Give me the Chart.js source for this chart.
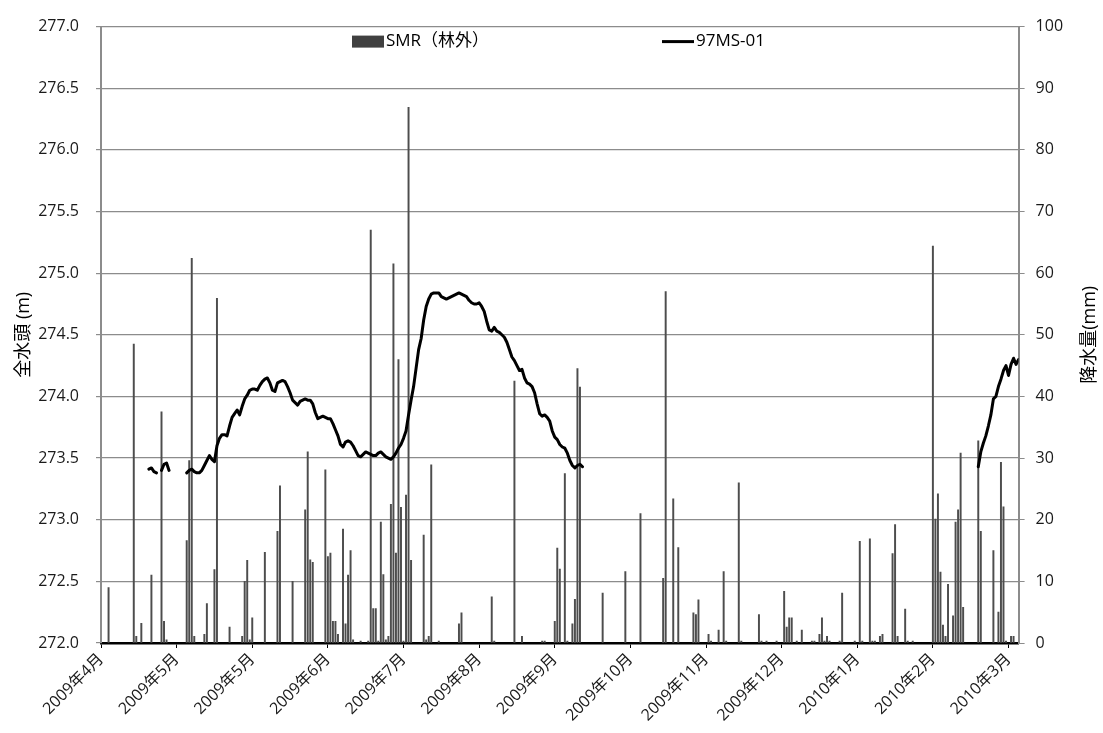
<!DOCTYPE html>
<html>
<head>
<meta charset="utf-8">
<script src="https://cdn.jsdelivr.net/npm/chart.js@4.4.1/dist/chart.umd.min.js"></script>
<style>
  html, body { margin: 0; padding: 0; background: #fff; }
  #wrap { width: 1103px; height: 733px; position: relative; }
</style>
</head>
<body>
<div id="wrap"><canvas id="grafico"></canvas></div>
<script>
// eixo x: dias desde 2009-04-01, marcas a cada 30 dias
const tickDays = [0, 30, 60, 90, 120, 150, 180, 210, 240, 270, 300, 330, 360];
const monthLabels = ['2009年4月', '2009年5月', '2009年5月', '2009年6月', '2009年7月', '2009年8月', '2009年9月',
    '2009年10月', '2009年11月', '2009年12月', '2010年1月', '2010年2月', '2010年3月'];

// precipitação diária (mm) - SMR（林外）
const rainDays = [
    3, 13, 14, 16, 20, 24, 25, 26, 34, 35,
    36, 37, 41, 42, 45, 46, 51, 56, 57, 58,
    59, 60, 65, 70, 71, 76, 81, 82, 83, 84,
    89, 90, 91, 92, 93, 94, 96, 97, 98, 99,
    100, 103, 106, 107, 108, 109, 110, 111, 112, 113,
    114, 115, 116, 117, 118, 119, 120, 121, 122, 123,
    128, 129, 130, 131, 134, 142, 143, 155, 156, 164,
    167, 175, 176, 180, 181, 182, 184, 185, 187, 188,
    189, 190, 199, 208, 214, 223, 224, 227, 229, 235,
    236, 237, 241, 242, 245, 247, 248, 253, 254, 261,
    262, 264, 268, 271, 272, 273, 274, 276, 278, 282,
    283, 285, 286, 287, 288, 289, 293, 294, 299, 301,
    302, 305, 306, 307, 309, 310, 314, 315, 316, 319,
    320, 322, 330, 331, 332, 333, 334, 335, 336, 338,
    339, 340, 341, 342, 348, 349, 354, 356, 357, 358,
    359, 361, 362
];
const rainMm = [
    9, 48.5, 1.1, 3.2, 11, 37.5, 3.5, 0.5, 16.6, 29.6,
    62.4, 1.1, 1.4, 6.4, 11.9, 55.9, 2.6, 1.1, 10, 13.4,
    0.5, 4.1, 14.7, 18.1, 25.5, 10, 21.6, 31, 13.5, 13.1,
    28.1, 14, 14.6, 3.5, 3.5, 1.4, 18.5, 3.1, 11, 15,
    0.5, 0.3, 0.3, 67, 5.6, 5.6, 0.3, 19.6, 11.1, 0.5,
    1.1, 22.5, 61.5, 14.6, 46, 22, 0.3, 24, 86.9, 13.4,
    17.5, 0.5, 1.1, 28.9, 0.3, 3.1, 4.9, 7.5, 0.3, 42.5,
    1.1, 0.3, 0.3, 3.5, 15.4, 12, 27.5, 0.3, 3.1, 7.1,
    44.5, 41.5, 8.1, 11.6, 21, 10.5, 57, 23.4, 15.5, 4.9,
    4.6, 7, 1.4, 0.3, 2.1, 11.6, 0.3, 26, 0.3, 4.6,
    0.3, 0.3, 0.3, 8.4, 2.6, 4.1, 4.1, 0.3, 2.1, 0.3,
    0.3, 1.4, 4.1, 0.3, 1.1, 0.3, 0.3, 8.1, 0.3, 16.5,
    0.3, 16.9, 0.3, 0.3, 1.1, 1.4, 14.5, 19.2, 1.1, 5.5,
    0.3, 0.3, 64.4, 20.1, 24.2, 11.5, 2.9, 1.1, 9.5, 4.4,
    19.6, 21.6, 30.8, 5.8, 32.8, 18.1, 15, 5, 29.3, 22.1,
    0.3, 1.1, 1.1
];

// carga hidráulica 97MS-01 (m), trechos contínuos: dia inicial + valores diários
const headStart1 = 19;
const head1 = [273.41, 273.42, 273.39, 273.38];
const headStart2 = 24;
const head2 = [273.40, 273.45, 273.46, 273.40];
const headStart3 = 34;
const head3 = [
    273.38, 273.40, 273.41, 273.39, 273.38, 273.38, 273.40, 273.44, 273.48, 273.52,
    273.49, 273.47, 273.60, 273.66, 273.69, 273.69, 273.68, 273.76, 273.83, 273.86,
    273.89, 273.85, 273.92, 273.98, 274.01, 274.05,
    274.06, 274.06, 274.05, 274.09, 274.12, 274.14, 274.15, 274.11, 274.05, 274.04,
    274.11, 274.12, 274.13, 274.12, 274.08, 274.03, 273.97, 273.95, 273.93, 273.96,
    273.97, 273.98, 273.97, 273.97, 273.94, 273.87, 273.82, 273.83, 273.84, 273.83,
    273.82, 273.82, 273.78, 273.73, 273.68, 273.61, 273.59, 273.63, 273.64, 273.63,
    273.60, 273.56, 273.52, 273.51, 273.53, 273.55, 273.54, 273.53, 273.52, 273.52,
    273.54, 273.55, 273.53, 273.51, 273.50, 273.49, 273.51, 273.54, 273.58, 273.61,
    273.66, 273.72, 273.85, 273.97, 274.08, 274.23, 274.38, 274.47, 274.62, 274.73,
    274.79, 274.83, 274.84, 274.84, 274.84, 274.81, 274.80, 274.79, 274.80, 274.81,
    274.82, 274.83, 274.84, 274.83, 274.82, 274.81, 274.78, 274.76, 274.75, 274.75,
    274.76, 274.73, 274.69, 274.61, 274.54, 274.53, 274.56, 274.53, 274.52, 274.50,
    274.48, 274.44, 274.38, 274.32, 274.29, 274.25, 274.21, 274.22, 274.15, 274.11,
    274.10, 274.08, 274.03, 273.94, 273.86, 273.84, 273.85, 273.83, 273.80, 273.72,
    273.67, 273.65, 273.61, 273.59, 273.58, 273.54, 273.48, 273.44, 273.42, 273.44,
    273.45, 273.43
];
const headStart4 = 348;
const head4 = [273.43, 273.55, 273.62, 273.68, 273.76, 273.85, 273.98, 274.00, 274.08, 274.14,
    274.21, 274.25, 274.17, 274.26, 274.31, 274.26, 274.30];

// monta os pontos da linha com quebras (null) entre os trechos
const headPoints = [];
[[headStart1, head1], [headStart2, head2], [headStart3, head3], [headStart4, head4]].forEach(([start, vals]) => {
    if (headPoints.length) headPoints.push({ x: start - 0.5, y: null });
    vals.forEach((v, i) => headPoints.push({ x: start + i, y: v }));
});

const fonte = "'Open Sans', 'Noto Sans CJK JP', sans-serif";
Chart.defaults.font.family = fonte;
Chart.defaults.color = '#1a1a1a';

// títulos dos eixos e legenda desenhados à mão (como no Excel)
const extras = {
    id: 'extras',
    afterDraw(chart) {
        const ctx = chart.ctx;
        const a = chart.chartArea;
        const midY = (a.top + a.bottom) / 2;
        ctx.save();
        ctx.fillStyle = '#000';
        ctx.font = '18px ' + fonte;
        ctx.textAlign = 'center';
        ctx.textBaseline = 'middle';
        [[24, '全水頭 (m)'], [1090, '降水量(mm)']].forEach(([x, txt]) => {
            ctx.save();
            ctx.translate(x, midY);
            ctx.rotate(-Math.PI / 2);
            ctx.fillText(txt, 0, 0);
            ctx.restore();
        });

        // legenda
        const ds = chart.data.datasets;
        ctx.font = '17px ' + fonte;
        ctx.textAlign = 'left';
        ctx.fillStyle = '#404040';
        ctx.fillRect(a.left + 251, a.top + 9, 32, 12);
        ctx.fillStyle = '#000';
        ctx.fillText(ds[0].label, a.left + 285, a.top + 15);
        ctx.strokeStyle = '#000';
        ctx.lineWidth = 3;
        ctx.beginPath();
        ctx.moveTo(a.left + 561, a.top + 15);
        ctx.lineTo(a.left + 593, a.top + 15);
        ctx.stroke();
        ctx.fillText(ds[1].label, a.left + 595, a.top + 15);
        ctx.restore();
    }
};

const divGrafico = document.getElementById('grafico').getContext('2d');

const grafico = new Chart(divGrafico, {
    type: 'bar',
    data: {
        datasets: [
            {
                type: 'bar',
                label: 'SMR（林外）',
                data: rainDays.map((d, i) => ({ x: d, y: rainMm[i] })),
                backgroundColor: '#4d4d4d',
                barThickness: 1.3,
                yAxisID: 'y1',
                order: 2,
            },
            {
                type: 'line',
                label: '97MS-01',
                data: headPoints,
                borderColor: '#000',
                borderWidth: 3,
                pointRadius: 0,
                tension: 0,
                spanGaps: false,
                borderJoinStyle: 'round',
                borderCapStyle: 'round',
                yAxisID: 'y',
                order: 1,
            }
        ]
    },
    options: {
        maintainAspectRatio: false,
        animation: false,
        events: [],
        layout: {
            padding: { top: 14.5, left: 0, right: 0, bottom: 0 }
        },
        plugins: {
            legend: { display: false },
            tooltip: { enabled: false },
        },
        scales: {
            x: {
                type: 'linear',
                min: 0,
                max: 364,
                offset: false,
                afterBuildTicks: (scale) => {
                    scale.ticks = tickDays.map(v => ({ value: v }));
                },
                afterFit: (scale) => { scale.height = 90; },
                ticks: {
                    autoSkip: false,
                    maxRotation: 45,
                    minRotation: 45,
                    padding: 2,
                    font: { size: 16 },
                    callback: (v) => monthLabels[tickDays.indexOf(v)],
                },
                grid: {
                    offset: false,
                    drawOnChartArea: false,
                    drawTicks: true,
                    tickLength: 5,
                    color: '#000',
                },
                border: { color: '#000', width: 2.5 },
            },
            y: {
                position: 'left',
                min: 272,
                max: 277,
                afterFit: (scale) => { scale.width = 101; },
                ticks: {
                    stepSize: 0.5,
                    padding: 17,
                    font: { size: 16 },
                    callback: (v) => v.toFixed(1),
                },
                grid: {
                    color: '#8c8c8c',
                    lineWidth: 1.2,
                    tickLength: 5,
                },
                border: { color: '#8c8c8c', width: 2 },
            },
            y1: {
                position: 'right',
                min: 0,
                max: 100,
                afterFit: (scale) => { scale.width = 84.4; },
                ticks: {
                    stepSize: 10,
                    padding: 11,
                    font: { size: 16 },
                },
                grid: {
                    drawOnChartArea: false,
                    color: '#8c8c8c',
                    tickLength: 6,
                },
                border: { color: '#8c8c8c', width: 2 },
            }
        }
    },
    plugins: [extras]
});
</script>
</body>
</html>
